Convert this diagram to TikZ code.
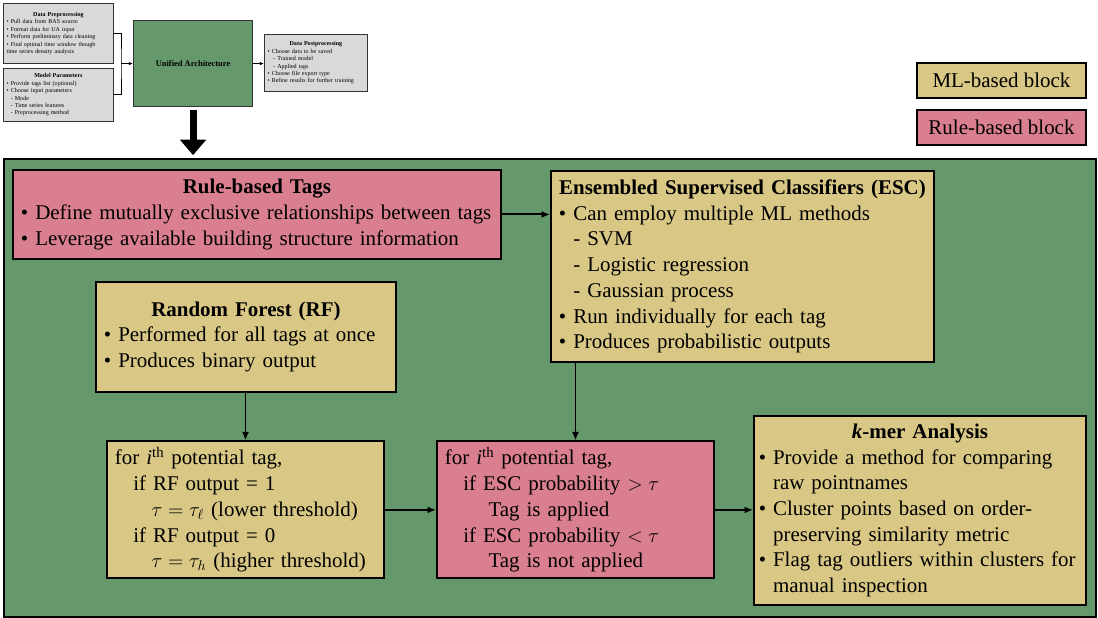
\documentclass[tikz,border=0pt]{standalone}
\usepackage{fontspec}
\setmainfont{Liberation Serif}
\usetikzlibrary{positioning}
\usetikzlibrary{arrows.meta}

\definecolor{archgreen}{RGB}{101,152,106}
\definecolor{mlyellow}{RGB}{216,199,133}
\definecolor{rulepink}{RGB}{217,127,143}
\definecolor{paramgrey}{RGB}{217,217,217}

\newcommand{\itembul}{\textbullet\ }
\newcommand{\itemgap}{\phantom{\textbullet\ }}
\newcommand{\blocktitle}[1]{{\centering\bfseries #1\par}}

\tikzset{
  block/.style={draw, line width=1.4pt, anchor=north west, inner xsep=0.2cm, inner ysep=0pt, align=left, font=\fontsize{14.9}{18.3}\selectfont},
  mlblock/.style={block, fill=mlyellow},
  ruleblock/.style={block, fill=rulepink},
  infoblock/.style={draw=black!80, line width=0.6pt, fill=paramgrey, anchor=north west, inner xsep=0.08cm, inner ysep=0pt, align=left, font=\fontsize{4.3}{5.3}\selectfont},
  flow/.style={line width=1.4pt, -{Latex[length=6pt,width=5pt]}},
  thinflow/.style={line width=0.6pt, -{Latex[length=3pt,width=2.5pt]}}
}

\begin{document}
\begin{tikzpicture}
\useasboundingbox (0,0) rectangle (27.45,15.45);

\node[infoblock, text width=2.59cm, minimum height=1.5cm] (dpre) at (0.075,15.375) {\blocktitle{Data Preprocessing}\itembul Pull data from BAS source\\\itembul Format data for UA input\\\itembul Perform preliminary data cleaning\\\itembul Find optimal time window though\\time series density analysis};
\node[infoblock, text width=2.59cm, minimum height=1.325cm] (mpar) at (0.075,13.75) {\blocktitle{Model Parameters}\itembul Provide tags list (optional)\\\itembul Choose input parameters\\\hspace*{3pt}- Mode\\\hspace*{3pt}- Time series features\\\hspace*{3pt}- Preprocessing method};
\node[draw=black!80, line width=0.8pt, fill=archgreen, anchor=north west, minimum width=2.975cm, minimum height=2.15cm, font=\fontsize{6}{7}\selectfont\bfseries] (ua) at (3.325,14.95) {Unified Architecture};
\node[infoblock, text width=2.415cm, minimum height=1.425cm] (dpost) at (6.6,14.6) {\blocktitle{Data Postprocessing}\itembul Choose data to be saved\\\hspace*{4pt}- Trained model\\\hspace*{4pt}- Applied tags\\\itembul Choose file export type\\\itembul Refine results for further training};
\coordinate[left=0.3cm of ua.west] (join);

\node[mlblock, align=center, minimum width=4.225cm, minimum height=0.875cm] (legml) at (22.9,13.9) {ML-based block};
\node[ruleblock, align=center, minimum width=4.225cm, minimum height=0.875cm] (legrule) at (22.9,12.725) {Rule-based block};

\node[draw, line width=1.2pt, fill=archgreen, anchor=north west, minimum width=27.3cm, minimum height=11.45cm, inner sep=0pt] (arch) at (0.075,11.5) {};

\node[ruleblock, text width=11.8cm, minimum height=2.225cm] (rtags) at (0.3,11.225) {\blocktitle{Rule-based Tags}\itembul Define mutually exclusive relationships between tags\\\itembul Leverage available building structure information};
\node[mlblock, text width=9.175cm, minimum height=4.775cm] (esc) at (13.75,11.2) {\blocktitle{Ensembled Supervised Classifiers (ESC)}\itembul Can employ multiple ML methods\\\itemgap- SVM\\\itemgap- Logistic regression\\\itemgap- Gaussian process\\\itembul Run individually for each tag\\\itembul Produces probabilistic outputs};
\node[mlblock, text width=7.1cm, minimum height=2.75cm] (rf) at (2.375,8.425) {\blocktitle{Random Forest (RF)}\itembul Performed for all tags at once\\\itembul Produces binary output};
\node[mlblock, text width=6.525cm, minimum height=3.425cm] (rfthr) at (2.65,4.44) {for \textit{i}\textsuperscript{th} potential tag,\\\hspace*{13pt}if RF output = 1\\\hspace*{26pt}$\tau=\tau_\ell$ (lower threshold)\\\hspace*{13pt}if RF output = 0\\\hspace*{26pt}$\tau=\tau_h$ (higher threshold)};
\node[ruleblock, text width=6.525cm, minimum height=3.425cm] (escthr) at (10.9,4.44) {for \textit{i}\textsuperscript{th} potential tag,\\\hspace*{13pt}if ESC probability $>\tau$\\\hspace*{31pt}Tag is applied\\\hspace*{13pt}if ESC probability $<\tau$\\\hspace*{31pt}Tag is not applied};
\node[mlblock, inner xsep=0.12cm, text width=8.06cm, minimum height=4.725cm] (kmer) at (18.825,5.075) {\blocktitle{\textit{k}-mer Analysis}\itembul Provide a method for comparing\\\itemgap raw pointnames\\\itembul Cluster points based on order-\\\itemgap preserving similarity metric\\\itembul Flag tag outliers within clusters for\\\itemgap manual inspection};

\draw[line width=0.6pt] (dpre.east) -| (join) |- (mpar.east);
\draw[thinflow] (join) -- (ua.west);
\draw[thinflow] (ua.east) -- (ua.east -| dpost.west);
\draw[line width=5pt, -{Triangle[width=18pt,length=11pt]}, shorten <=2pt, shorten >=2pt] (ua.south) -- (ua.south |- arch.north);

\draw[flow] (rtags.east) -- (rtags.east -| esc.west);
\draw[flow] (rf.south -| rfthr.north) -- (rfthr.north);
\draw[flow] (esc.south -| escthr.north) -- (escthr.north);
\draw[flow] (rfthr.east) -- (rfthr.east -| escthr.west);
\draw[flow] (escthr.east) -- (escthr.east -| kmer.west);
\end{tikzpicture}
\end{document}
